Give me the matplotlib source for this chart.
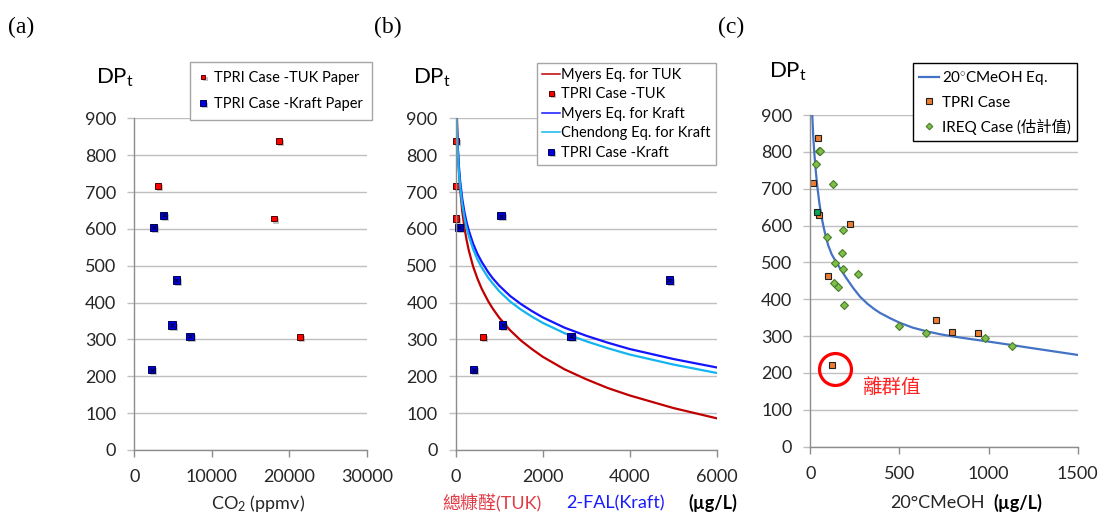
import numpy as np
import matplotlib
matplotlib.use('Agg')
import matplotlib.pyplot as plt
import matplotlib.patheffects as pe

plt.rcParams['font.family'] = ['Lato', 'Noto Sans CJK TC', 'DejaVu Sans']
plt.rcParams['mathtext.fontset'] = 'custom'
plt.rcParams['mathtext.rm'] = 'Lato'
plt.rcParams['mathtext.it'] = 'Lato:italic'

# ---- (a) DP vs CO2 ----
co2_tuk = [18640, 3020, 18030, 21350]
dp_tuk_a = [838, 717, 628, 306]
co2_kraft = [2496, 3788, 5423, 4864, 7188, 2238]
dp_kraft_a = [604, 637, 461, 339, 309, 218]

# ---- (b) DP vs furfural ----
fal_tuk = [10, 10, 10, 621]
dp_tuk_b = [838, 717, 628, 307]
fal_kraft = [77, 1042, 4912, 1080, 2651, 414]
dp_kraft_b = [604, 636, 461, 339, 309, 218]

# equation curves
curve_x = [15, 20, 25, 35, 50, 70, 100, 150, 200, 250, 300, 400, 500, 600, 750, 850, 1000,
           1250, 1500, 1750, 2000, 2500, 3000, 3500, 4000, 5000, 6000]
myers_tuk = [999, 955, 921, 870, 815, 764, 710, 648, 604, 570, 542, 498, 465, 437, 403, 384, 359,
             325, 297, 274, 253, 219, 192, 168, 148, 114, 86]
myers_kraft = [967, 932, 904, 862, 818, 776, 732, 682, 646, 618, 596, 560, 532, 510, 482, 466, 446,
               418, 396, 377, 360, 332, 310, 291, 274, 247, 224]
chendong = [953, 917, 889, 847, 803, 761, 717, 667, 631, 603, 581, 545, 517, 495, 467, 452, 431,
            403, 381, 362, 345, 317, 295, 276, 259, 232, 209]

# ---- (c) DP vs MeOH ----
meoh_curve_x = [11, 16, 22, 30, 40, 50, 60, 72, 85, 100, 120, 140, 167, 200, 240, 279, 320, 360,
                391, 450, 503, 575, 653, 730, 802, 900, 989, 1100, 1250, 1375, 1500]
meoh_curve_y = [900, 846, 800, 752, 703, 664, 632, 602, 574, 547, 522, 505, 484, 459, 431, 407,
                388, 373, 363, 348, 336, 323, 313, 305, 299, 292, 286, 278, 267, 258, 249]
tpri_meoh = [43, 13, 50, 223, 97, 707, 793, 941, 120]
tpri_dp = [837, 716, 630, 604, 464, 343, 312, 308, 222]
tpri_green_meoh = [39]
tpri_green_dp = [636]
ireq_meoh = [47, 57, 30, 129, 92, 183, 178, 138, 183, 269, 133, 157, 189, 499, 647, 980, 1130]
ireq_dp = [801, 801, 768, 714, 570, 588, 526, 499, 481, 469, 444, 434, 385, 328, 308, 294, 272]
outlier = (138, 210)

W, H = 1099, 515
fig = plt.figure(figsize=(W / 100, H / 100), dpi=100)


def box(l, t, r, b):
    return [l / W, 1 - b / H, (r - l) / W, (b - t) / H]


def fx(x):
    return x / W


def fy(y):
    return 1 - y / H


tick_c = '#262626'
grid_c = '#bfbfbf'
axis_c = '#8c8c8c'
shadow = [pe.withSimplePatchShadow(offset=(1.5, -1.5), shadow_rgbFace='#555555', alpha=0.35)]


def style(ax, xmax, xstep):
    ax.set_ylim(0, 900)
    ax.set_yticks(range(0, 901, 100))
    ax.set_xlim(0, xmax)
    ax.set_xticks(np.arange(0, xmax + 1, xstep))
    ax.grid(axis='y', color=grid_c, lw=1.0)
    ax.set_axisbelow(True)
    for s in ['top', 'right']:
        ax.spines[s].set_visible(False)
    for s in ['left', 'bottom']:
        ax.spines[s].set_color(axis_c)
        ax.spines[s].set_linewidth(1.0)
    ax.tick_params(axis='y', length=5, color=grid_c, width=1.0, pad=8, labelsize=13, labelcolor=tick_c)
    ax.tick_params(axis='x', length=5, color=axis_c, width=1.0, pad=9, labelsize=13, labelcolor=tick_c)


# ---------- panel (a) ----------
ax1 = fig.add_axes(box(134.3, 118.3, 366.7, 450))
style(ax1, 30000, 10000)
ax1.plot(co2_tuk, dp_tuk_a, 's', color='#ff0000', mec='#500000', ms=4.2, mew=0.7,
         path_effects=shadow, label='TPRI Case -TUK Paper', clip_on=False)
ax1.plot(co2_kraft, dp_kraft_a, 's', color='#0000e0', mec='#000050', ms=5.2, mew=0.7,
         path_effects=shadow, label='TPRI Case -Kraft Paper', clip_on=False)
ax1.plot(co2_kraft, dp_kraft_a, 'x', color='#000040', ms=3.2, mew=0.8)
leg = ax1.legend(loc='upper left', bbox_to_anchor=(fx(190), fy(62.3)), bbox_transform=fig.transFigure,
                 fontsize=10.5, frameon=True, fancybox=False, edgecolor='#a6a6a6', framealpha=1,
                 handlelength=0.6, handletextpad=0.45, labelspacing=0.85, borderpad=0.6,
                 borderaxespad=0, markerscale=0.8)
leg.get_frame().set_linewidth(1.0)

# ---------- panel (b) ----------
ax2 = fig.add_axes(box(455.7, 118.3, 716.7, 450))
style(ax2, 6000, 2000)
ax2.plot(curve_x, myers_tuk, color='#c00000', lw=1.6, label='Myers Eq. for TUK')
ax2.plot(fal_tuk, dp_tuk_b, 's', color='#ff0000', mec='#500000', ms=4.5, mew=0.7,
         path_effects=shadow, label='TPRI Case -TUK', clip_on=False)
ax2.plot(curve_x, myers_kraft, color='#1414ff', lw=1.6, label='Myers Eq. for Kraft')
ax2.plot(curve_x, chendong, color='#13b5f0', lw=1.6, label='Chendong Eq. for Kraft')
ax2.plot(fal_kraft, dp_kraft_b, 's', color='#0000e0', mec='#000050', ms=5.2, mew=0.7,
         path_effects=shadow, label='TPRI Case -Kraft', clip_on=False)
ax2.plot(fal_kraft, dp_kraft_b, 'x', color='#000040', ms=3.2, mew=0.8)
leg = ax2.legend(loc='upper left', bbox_to_anchor=(fx(537.3), fy(62.7)), bbox_transform=fig.transFigure,
                 fontsize=10.5, frameon=True, fancybox=False, edgecolor='#a6a6a6', framealpha=1,
                 handlelength=1.2, handletextpad=0.1, labelspacing=0.38, borderpad=0.35,
                 borderaxespad=0, markerscale=0.8)
leg.get_frame().set_linewidth(1.0)
for ln in leg.get_lines():
    ln.set_linewidth(1.1)

# ---------- panel (c) ----------
ax3 = fig.add_axes(box(810.3, 115, 1077.7, 446.7))
style(ax3, 1500, 500)
ax3.plot(meoh_curve_x, meoh_curve_y, color='#4472c4', lw=1.6, label='20$^{\\circ}$CMeOH Eq.')
ax3.plot(tpri_meoh, tpri_dp, 's', color='#ed7d31', mec='#202020', ms=5, mew=0.8, label='TPRI Case')
ax3.plot(tpri_green_meoh, tpri_green_dp, 's', color='#00a651', mec='#202020', ms=5, mew=0.8)
ax3.plot(ireq_meoh, ireq_dp, 'D', color='#7cc04a', mec='#4a7a2a', ms=4.2, mew=0.8,
         label='IREQ Case (估計值)')
ax3.plot([outlier[0]], [outlier[1]], 'o', mfc='none', mec='#ff0000', ms=23, mew=2.3)
ax3.text(288, 163, '離群值', color='#ff2020', fontsize=14, va='center', ha='left')
leg = ax3.legend(loc='upper left', bbox_to_anchor=(fx(913), fy(63.3)), bbox_transform=fig.transFigure,
                 fontsize=11, frameon=True, fancybox=False, edgecolor='#000000', framealpha=1,
                 handlelength=1.3, handletextpad=0.2, labelspacing=0.55, borderpad=0.4,
                 borderaxespad=0, markerscale=0.8)
leg.get_frame().set_linewidth(1.0)

# ---------- texts ----------
for lx, lab in [(8, '(a)'), (374, '(b)'), (718, '(c)')]:
    fig.text(fx(lx), fy(27), lab, family='Liberation Serif', fontsize=17, va='center', ha='left')
for lx, ly in [(96, 78), (413, 78), (769, 72)]:
    fig.text(fx(lx), fy(ly), r'DP$_{\mathrm{t}}$', fontsize=16, va='center', ha='left')

fig.text(fx(258), fy(503), r'CO$_2$ (ppmv)', fontsize=13, ha='center', va='center', color=tick_c)
fig.text(fx(442.7), fy(503), '總糠醛(TUK)', fontsize=13, ha='left', va='center', color='#e03c46')
fig.text(fx(566.7), fy(503), '2-FAL(Kraft)', fontsize=13, ha='left', va='center', color='#1a1aff')
fig.text(fx(688), fy(503), '(µg/L)', fontsize=13, ha='left', va='center', color='#000000', weight='bold')
fig.text(fx(890), fy(503), '20°CMeOH', fontsize=13, ha='left', va='center', color=tick_c)
fig.text(fx(993), fy(503), '(µg/L)', fontsize=13, ha='left', va='center', color='#000000', weight='bold')

fig.savefig('out.png', dpi=100)
